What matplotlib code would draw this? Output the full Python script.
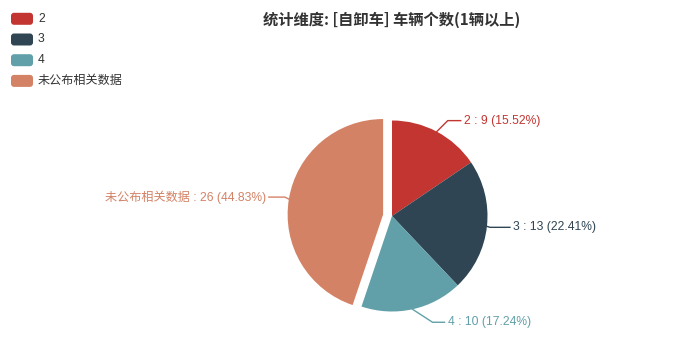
import numpy as np
import matplotlib
matplotlib.use("Agg")
import matplotlib.pyplot as plt
from matplotlib.patches import FancyBboxPatch

plt.rcParams['font.family'] = ['Liberation Sans', 'Noto Sans CJK SC', 'DejaVu Sans']

title = "统计维度: [自卸车] 车辆个数(1辆以上)"
categories = ["2", "3", "4", "未公布相关数据"]
values = [9, 13, 10, 26]
colors = ["#c23531", "#2f4554", "#61a0a8", "#d48265"]
explode_px = [0, 0, 0, 9]
# leader-line styling per label: first segment offset (px, y down) and horizontal length
line_offsets = [(11, -11), (3, 1), (20, 13), (-4, -2)]
line_len2 = [13, 20, 12, 16]

W, H = 700, 357
fig = plt.figure(figsize=(W / 100, H / 100), dpi=100)
ax = fig.add_axes([0, 0, 1, 1])

cx, cy, R = 392, H - 216, 95.5
total = sum(values)
wedges, _ = ax.pie(values, colors=colors, startangle=90, counterclock=False,
                   center=(cx, cy), radius=R,
                   explode=explode_px,
                   wedgeprops=dict(edgecolor='none', linewidth=0),
                   frame=True)
ax.set_xlim(0, W)
ax.set_ylim(0, H)
ax.set_aspect('equal')
ax.axis('off')

# labels with leader lines
cum = 0
for i, (cat, v) in enumerate(zip(categories, values)):
    mid = 90 - (cum + v / 2) / total * 360
    cum += v
    a = np.deg2rad(mid)
    ox, oy = explode_px[i] * np.cos(a), explode_px[i] * np.sin(a)
    p0 = (cx + ox + R * np.cos(a), cy + oy + R * np.sin(a))
    dx, dy = line_offsets[i]
    p1 = (p0[0] + dx, p0[1] - dy)
    sgn = 1 if np.cos(a) >= 0 else -1
    p2 = (p1[0] + sgn * line_len2[i], p1[1])
    ax.plot([p0[0], p1[0], p2[0]], [p0[1], p1[1], p2[1]], color=colors[i], lw=1)
    pct = v / total * 100
    txt = f"{cat} : {v} ({pct:.2f}%)"
    ax.text(p2[0] + sgn * 3, p2[1], txt, color=colors[i], fontsize=8.7,
            ha='left' if sgn > 0 else 'right', va='center')

# title
ax.text(392, H - 19.5, title, fontsize=11, fontweight='bold', color='#333333',
        ha='center', va='center', family=['Noto Sans CJK SC', 'DejaVu Sans'])

# legend
for i, cat in enumerate(categories):
    yc = H - (18.8 + i * 20.7)
    box = FancyBboxPatch((11, yc - 6), 22, 12, boxstyle="round,pad=0,rounding_size=3",
                         facecolor=colors[i], edgecolor='none')
    ax.add_patch(box)
    ax.text(38, yc, cat, fontsize=8.7, color='#333333', ha='left', va='center')

fig.savefig("out.png", dpi=100, facecolor='white')
